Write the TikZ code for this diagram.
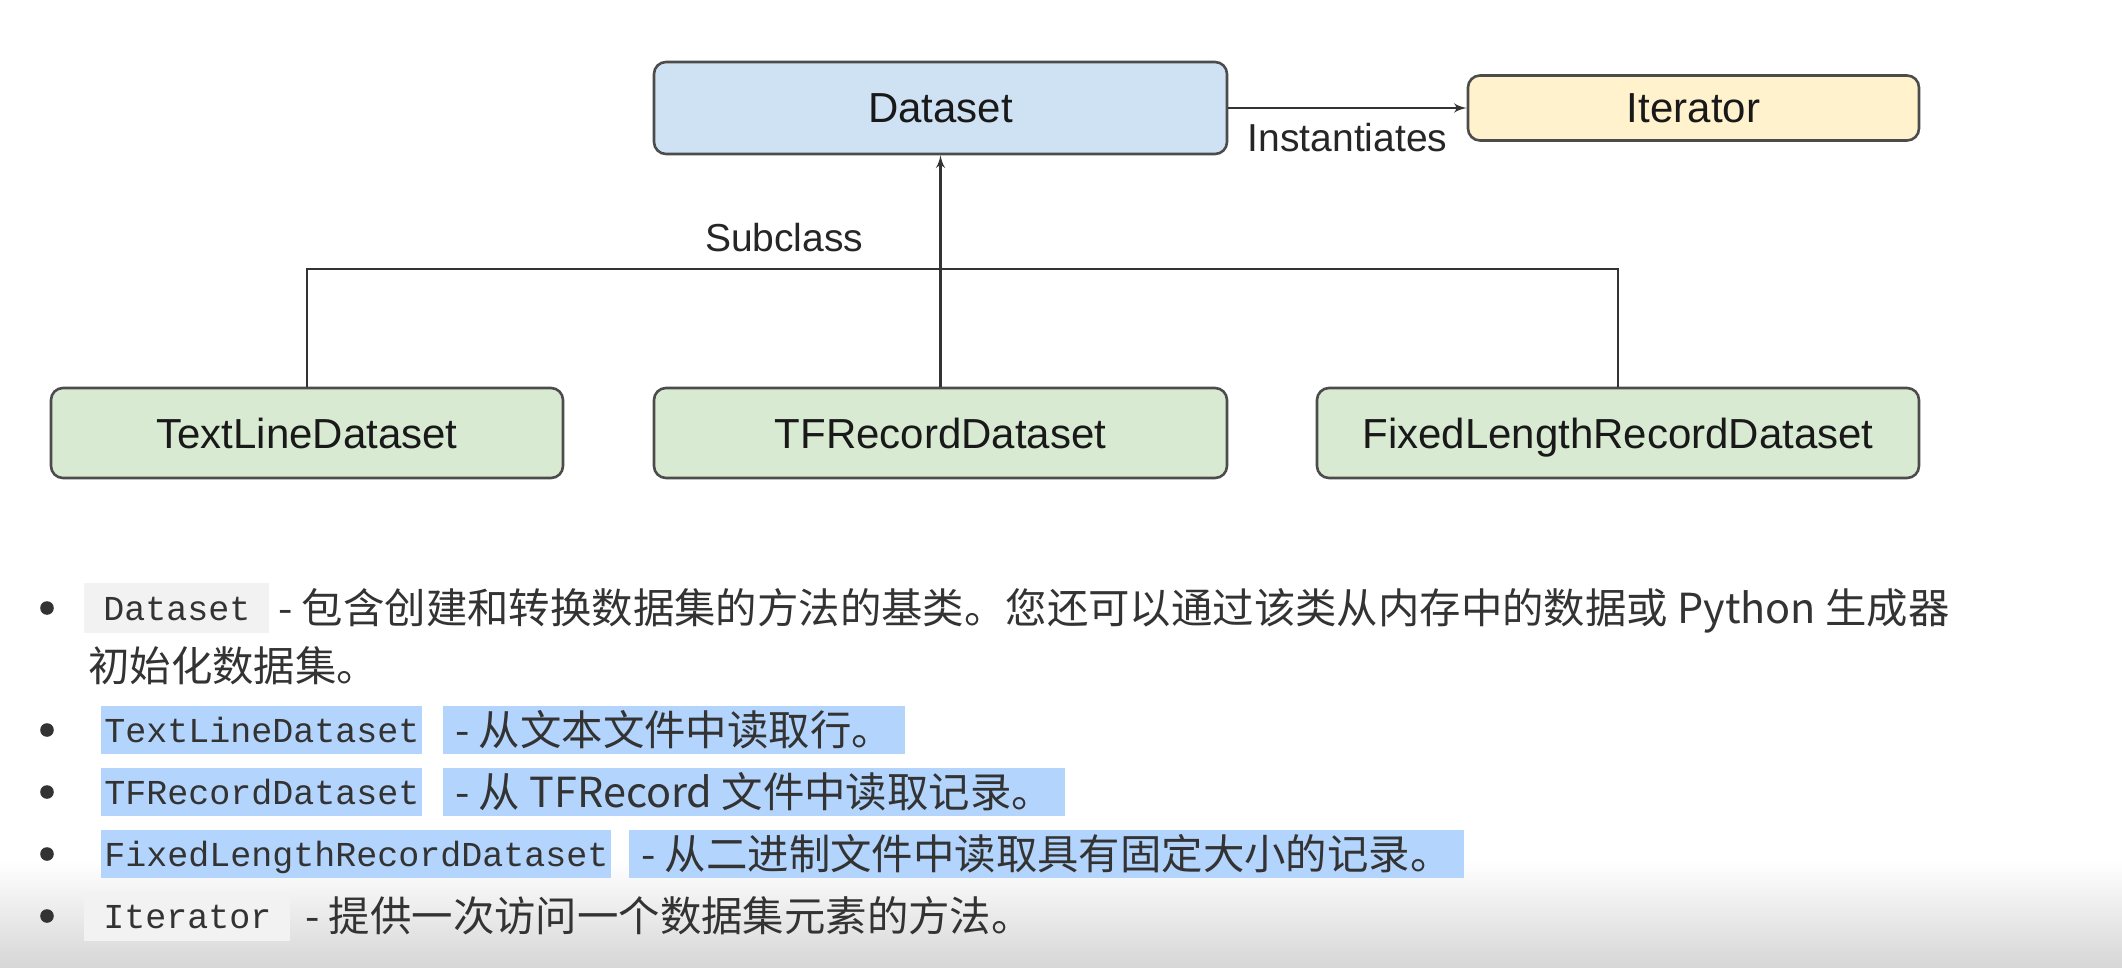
\documentclass[tikz,border=0pt]{standalone}
\usepackage{fontspec}
\setmainfont{Liberation Sans}
\setmonofont{Liberation Mono}
\newfontfamily\cjk{Noto Sans CJK SC}
\usetikzlibrary{arrows}
\definecolor{dsblue}{HTML}{CFE2F3}
\definecolor{ityellow}{HTML}{FFF2CC}
\definecolor{clgreen}{HTML}{D9EAD3}
\definecolor{hlblue}{HTML}{B3D4FC}
\definecolor{codegray}{HTML}{F2F2F2}
\tikzset{
  block/.style={
    rectangle,
    draw,
    draw=black!70,
    line width=1.3pt,
    rounded corners=6pt,
    minimum height=45pt,
    text=black!90,
    font=\fontsize{21}{25}\selectfont,
    text height=15pt,
    text depth=0pt
  },
  lbl/.style={
    text=black!85,
    font=\fontsize{19.5}{23}\selectfont
  },
  codebox/.style={
    rectangle,
    anchor=west,
    fill=codegray,
    inner xsep=9.5pt,
    inner ysep=1pt,
    minimum height=25pt,
    text=black!80,
    text height=16.6pt,
    text depth=3.9pt
  },
  hlcode/.style={codebox, fill=hlblue, inner xsep=1.5pt, minimum height=24pt},
  desc/.style={
    rectangle,
    anchor=west,
    inner xsep=4pt,
    inner ysep=1pt,
    minimum height=24pt,
    text=black!80,
    font=\cjk\fontsize{20.7}{25}\selectfont,
    text height=18pt,
    text depth=2.5pt
  },
  hl/.style={fill=hlblue, inner xsep=6pt}
}
\tikzstyle{arrow} = [->, > = latex', line width=1.2pt, draw=black!80]
\tikzstyle{line} = [line width=1.1pt, draw=black!80]
\def\code#1{{\fontsize{17.5}{20}\selectfont\texttt{#1}}}

\begin{document}
\begin{tikzpicture}[x=0.5pt, y=-0.5pt]
    \useasboundingbox (0, 0) rectangle (2122, 968);
    \fill[white] (0, 0) rectangle (2122, 968);
    \shade[top color=white, bottom color=black!16] (0, 860) rectangle (2122, 968);
    % class diagram
    \node[block, fill=dsblue, minimum width=286.5pt, minimum height=46pt] (ds) at (940.5, 108) {Dataset};
    \node[block, fill=ityellow, minimum width=225.5pt, minimum height=32.5pt] (it) at (1693.5, 108) {Iterator};
    \node[block, fill=clgreen, minimum width=256pt] (tl) at (307, 433) {TextLineDataset};
    \node[block, fill=clgreen, minimum width=286.5pt] (tf) at (940.5, 433) {TFRecordDataset};
    \node[block, fill=clgreen, minimum width=301pt] (fl) at (1618, 433) {FixedLengthRecordDataset};
    \coordinate (bus) at (0, 269);
    \draw[arrow] (ds) to node [lbl, below, pos=0.5, yshift=-3.5pt] (inst) {Instantiates} (it);
    \draw[arrow] (tf) to (ds);
    \draw[line] (tl.north) -- (tl.north |- bus) -- node [lbl, above, pos=0.364, yshift=4.5pt] (sub) {Subclass} (fl.north |- bus) -- (fl.north);
    % list
    \foreach \y in {608, 730, 792, 854, 916}
        \fill[black!80] (47, \y) circle (3.4pt);
    \node[codebox] (c0) at (84, 608) {\code{Dataset}};
    \node[desc] (d0) at (c0.east) {- 包含创建和转换数据集的方法的基类。您还可以通过该类从内存中的数据或 Python 生成器};
    \node[desc] (d0b) at (80, 666) {初始化数据集。};
    \node[hlcode] (c1) at (101, 730) {\code{TextLineDataset}};
    \node[desc, hl] (d1) at ([xshift=10pt]c1.east) {- 从文本文件中读取行。};
    \node[hlcode] (c2) at (101, 792) {\code{TFRecordDataset}};
    \node[desc, hl] (d2) at ([xshift=10pt]c2.east) {- 从 TFRecord 文件中读取记录。};
    \node[hlcode] (c3) at (101, 854) {\code{FixedLengthRecordDataset}};
    \node[desc, hl] (d3) at ([xshift=8.5pt]c3.east) {- 从二进制文件中读取具有固定大小的记录。};
    \node[codebox] (c4) at (84, 916) {\code{Iterator}};
    \node[desc] (d4) at ([xshift=3pt]c4.east) {- 提供一次访问一个数据集元素的方法。};
\end{tikzpicture}
\end{document}
